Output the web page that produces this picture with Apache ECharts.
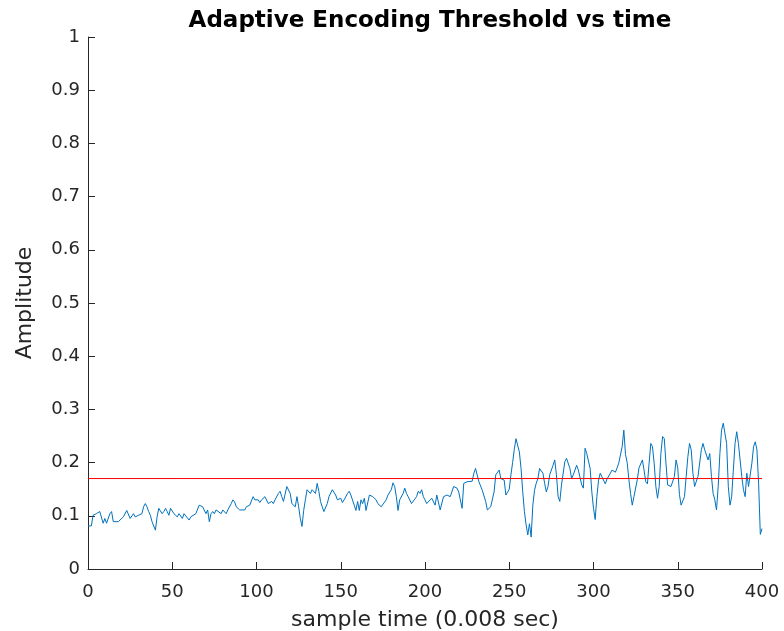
<!DOCTYPE html>
<html>
<head>
<meta charset="utf-8">
<script src="https://cdn.jsdelivr.net/npm/echarts@6/dist/echarts.min.js"></script>
<style>
  html, body { margin: 0; padding: 0; background: #ffffff; }
  #chart { width: 784px; height: 631px; }
</style>
</head>
<body>
<div id="chart"></div>
<script>
// Sample index (time step of 0.008 s) and adaptive threshold amplitude
const sampleIdx = [
  0, 2, 3, 5, 6, 7, 8, 9, 10, 11, 13, 14, 15, 16, 18, 19, 21, 22, 23, 24,
  25, 27, 28, 30, 31, 32, 33, 34, 35, 36, 37, 38, 39, 40, 41, 42, 43, 44, 45, 46,
  47, 48, 49, 50, 51, 53, 54, 56, 57, 58, 60, 61, 62, 64, 65, 66, 67, 68, 70, 71,
  72, 73, 74, 75, 76, 77, 79, 80, 82, 83, 85, 86, 87, 88, 90, 91, 93, 94, 96, 97,
  98, 99, 100, 101, 102, 103, 105, 106, 107, 109, 110, 111, 113, 114, 115, 116, 117, 118, 119, 120,
  121, 123, 124, 125, 126, 127, 128, 129, 130, 131, 132, 133, 135, 136, 137, 138, 139, 140, 142, 143,
  145, 146, 147, 148, 150, 151, 152, 154, 155, 156, 158, 159, 160, 161, 162, 163, 164, 165, 167, 168,
  169, 171, 172, 174, 175, 177, 178, 180, 181, 182, 183, 184, 185, 187, 188, 189, 190, 192, 193, 195,
  196, 197, 198, 199, 200, 201, 202, 204, 206, 207, 209, 211, 213, 215, 217, 219, 220, 222, 223, 225,
  228, 229, 230, 231, 232, 234, 236, 237, 239, 241, 242, 244, 245, 247, 248, 250, 251, 252, 253, 254,
  255, 256, 257, 258, 259, 260, 261, 262, 263, 264, 265, 266, 267, 268, 270, 271, 272, 273, 274, 276,
  277, 278, 279, 280, 281, 283, 284, 286, 287, 288, 290, 291, 293, 294, 295, 296, 298, 299, 300, 301,
  302, 303, 304, 305, 307, 308, 310, 311, 313, 314, 315, 317, 318, 319, 320, 321, 322, 323, 324, 326,
  327, 329, 330, 331, 332, 333, 334, 335, 336, 337, 338, 339, 340, 341, 342, 343, 344, 346, 347, 348,
  349, 350, 351, 352, 353, 354, 355, 356, 357, 358, 359, 360, 362, 364, 365, 366, 368, 369, 370, 371,
  372, 373, 374, 375, 376, 377, 378, 379, 380, 381, 382, 383, 384, 385, 386, 387, 388, 389, 390, 391,
  392, 394, 395, 396, 397, 398, 399, 400
];
const threshold = [
  0.081, 0.081, 0.101, 0.104, 0.101, 0.108, 0.111, 0.086, 0.095, 0.086, 0.104, 0.108, 0.089, 0.092, 0.089, 0.092, 0.098, 0.101, 0.110, 0.108,
  0.095, 0.104, 0.098, 0.101, 0.098, 0.104, 0.117, 0.123, 0.117, 0.108, 0.101, 0.089, 0.086, 0.073, 0.098, 0.114, 0.111, 0.104, 0.108, 0.114,
  0.108, 0.101, 0.114, 0.117, 0.104, 0.098, 0.104, 0.095, 0.104, 0.101, 0.092, 0.098, 0.095, 0.104, 0.101, 0.120, 0.123, 0.117, 0.104, 0.111,
  0.089, 0.104, 0.108, 0.104, 0.111, 0.108, 0.104, 0.111, 0.104, 0.111, 0.123, 0.130, 0.126, 0.117, 0.111, 0.108, 0.111, 0.117, 0.120, 0.123,
  0.136, 0.130, 0.127, 0.130, 0.125, 0.130, 0.136, 0.133, 0.123, 0.127, 0.123, 0.130, 0.142, 0.146, 0.136, 0.127, 0.130, 0.155, 0.158, 0.142,
  0.123, 0.117, 0.136, 0.117, 0.095, 0.080, 0.110, 0.130, 0.149, 0.152, 0.142, 0.149, 0.142, 0.161, 0.146, 0.127, 0.117, 0.108, 0.123, 0.136,
  0.149, 0.146, 0.139, 0.130, 0.133, 0.125, 0.130, 0.142, 0.146, 0.139, 0.120, 0.110, 0.127, 0.110, 0.130, 0.123, 0.133, 0.110, 0.139, 0.142,
  0.136, 0.130, 0.123, 0.117, 0.120, 0.130, 0.139, 0.149, 0.162, 0.155, 0.136, 0.110, 0.130, 0.142, 0.152, 0.142, 0.136, 0.123, 0.123, 0.136,
  0.146, 0.142, 0.149, 0.136, 0.130, 0.123, 0.124, 0.133, 0.120, 0.139, 0.111, 0.136, 0.139, 0.136, 0.155, 0.152, 0.145, 0.114, 0.161, 0.164,
  0.165, 0.180, 0.189, 0.186, 0.164, 0.148, 0.127, 0.111, 0.117, 0.145, 0.177, 0.186, 0.170, 0.167, 0.139, 0.150, 0.177, 0.200, 0.225, 0.245,
  0.247, 0.220, 0.189, 0.145, 0.108, 0.083, 0.064, 0.085, 0.060, 0.120, 0.148, 0.161, 0.170, 0.189, 0.180, 0.161, 0.145, 0.155, 0.177, 0.195,
  0.205, 0.177, 0.136, 0.127, 0.158, 0.202, 0.208, 0.189, 0.170, 0.177, 0.195, 0.186, 0.158, 0.152, 0.227, 0.217, 0.189, 0.145, 0.114, 0.093,
  0.136, 0.167, 0.180, 0.182, 0.160, 0.169, 0.180, 0.186, 0.182, 0.190, 0.199, 0.230, 0.261, 0.215, 0.200, 0.168, 0.142, 0.120, 0.136, 0.168,
  0.190, 0.205, 0.186, 0.164, 0.160, 0.199, 0.236, 0.230, 0.199, 0.155, 0.133, 0.155, 0.217, 0.249, 0.245, 0.199, 0.158, 0.155, 0.155, 0.174,
  0.205, 0.190, 0.140, 0.120, 0.117, 0.136, 0.174, 0.211, 0.236, 0.224, 0.180, 0.155, 0.174, 0.224, 0.236, 0.224, 0.205, 0.217, 0.174, 0.142,
  0.130, 0.111, 0.155, 0.217, 0.261, 0.274, 0.271, 0.236, 0.155, 0.120, 0.136, 0.186, 0.236, 0.258, 0.236, 0.205, 0.174, 0.149, 0.136, 0.180,
  0.155, 0.199, 0.230, 0.239, 0.224, 0.160, 0.065, 0.076
];
// Fixed reference level drawn across the whole record
const levelIdx = [0, 400];
const levelValue = [0.17, 0.17];

const xTicks = [0, 50, 100, 150, 200, 250, 300, 350, 400];
const yTicks = [0, 0.1, 0.2, 0.3, 0.4, 0.5, 0.6, 0.7, 0.8, 0.9, 1];

const axisColor = '#262626';
const fontFamily = 'DejaVu Sans';

const chart = echarts.init(document.getElementById('chart'), null, { renderer: 'canvas' });
chart.setOption({
  animation: false,
  backgroundColor: '#ffffff',
  textStyle: { fontFamily: fontFamily },
  title: {
    text: 'Adaptive Encoding Threshold vs time',
    left: 425,
    textAlign: 'center',
    top: 5,
    textStyle: { fontFamily: fontFamily, fontSize: 23, fontWeight: 'bold', color: '#000000' }
  },
  grid: { left: 88, right: 22, top: 37, bottom: 62, containLabel: false, outerBoundsMode: 'none' },
  xAxis: {
    type: 'value',
    min: xTicks[0],
    max: xTicks[xTicks.length - 1],
    interval: 50,
    name: 'sample time (0.008 sec)',
    nameLocation: 'middle',
    nameGap: 40,
    nameTextStyle: { fontFamily: fontFamily, fontSize: 22, color: axisColor },
    axisLine: { show: true, onZero: false, lineStyle: { color: axisColor, width: 1 } },
    axisTick: { show: true, inside: true, length: 7, lineStyle: { color: axisColor } },
    axisLabel: { fontFamily: fontFamily, fontSize: 18, color: axisColor, margin: 14 },
    splitLine: { show: false }
  },
  yAxis: {
    type: 'value',
    min: yTicks[0],
    max: yTicks[yTicks.length - 1],
    interval: 0.1,
    name: 'Amplitude',
    nameLocation: 'middle',
    nameGap: 52,
    nameRotate: 90,
    nameTextStyle: { fontFamily: fontFamily, fontSize: 22, color: axisColor },
    axisLine: { show: true, lineStyle: { color: axisColor, width: 1 } },
    axisTick: { show: true, inside: true, length: 7, lineStyle: { color: axisColor } },
    axisLabel: {
      fontFamily: fontFamily, fontSize: 18, color: axisColor, margin: 8,
      formatter: v => String(Math.round(v * 10) / 10)
    },
    splitLine: { show: false }
  },
  series: [
    {
      type: 'line',
      data: sampleIdx.map((x, i) => [x, threshold[i]]),
      showSymbol: false,
      symbol: 'none',
      lineStyle: { color: '#0072BD', width: 1 },
      z: 2
    },
    {
      type: 'line',
      data: levelIdx.map((x, i) => [x, levelValue[i]]),
      showSymbol: false,
      symbol: 'none',
      lineStyle: { color: '#FF0000', width: 1 },
      z: 3
    }
  ]
});
</script>
</body>
</html>
